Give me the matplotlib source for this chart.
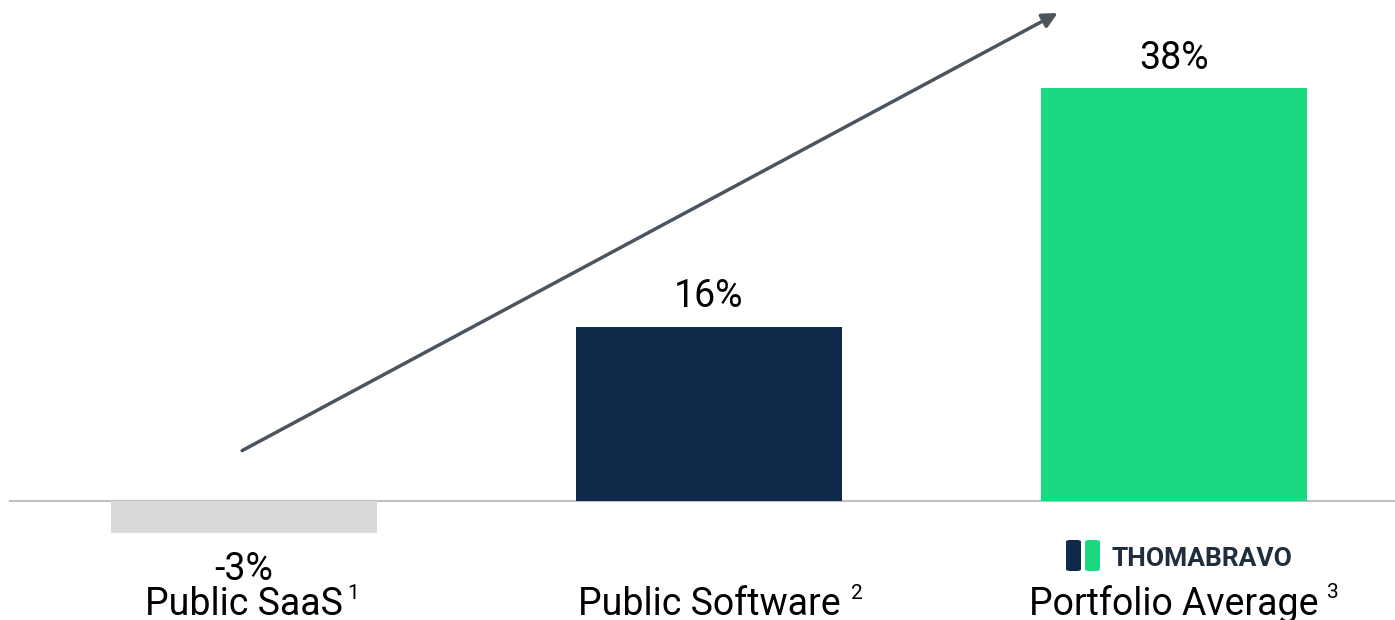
#!/usr/bin/env python3
# -*- coding: utf-8 -*-
"""
Growth bar chart: public SaaS vs software vs portfolio.
"""

import matplotlib
matplotlib.use('Agg')
import matplotlib.pyplot as plt
from matplotlib.patches import FancyBboxPatch

plt.rcParams['font.family'] = ['Roboto', 'DejaVu Sans']

categories = ['Public SaaS', 'Public Software', 'Portfolio Average']
footnotes = ['1', '2', '3']
values = [-3, 16, 38]
value_labels = ['-3%', '16%', '38%']
colors = ['#d9d9d9', '#10294b', '#1ad981']

fig = plt.figure(figsize=(13.95, 6.2), dpi=100)
ax = fig.add_axes([0, 0, 1, 1])
ax.set_xlim(-0.5247, 2.4753)
ax.set_ylim(-11.0, 46.1)
ax.axis('off')

x = list(range(len(categories)))
ax.bar(x, values, width=0.572, color=colors, zorder=2)
ax.axhline(0, xmin=0.007, xmax=1, color='#bfbfbf', lw=1.5, zorder=1)

for i, (v, lab) in enumerate(zip(values, value_labels)):
    if v >= 0:
        ax.annotate(lab, xy=(i, v), xytext=(0, 14), textcoords='offset points',
                    ha='center', va='baseline', fontsize=27, color='#000000')
    else:
        ax.text(i, -7.28, lab, ha='center', va='baseline', fontsize=27,
                color='#000000')

gaps = [3, 8, 6]
for i, (cat, fn) in enumerate(zip(categories, footnotes)):
    t = ax.text(i, -10.5, cat, ha='center', va='baseline', fontsize=27,
                color='#000000')
    ax.annotate(fn, xy=(1, 1), xycoords=t, xytext=(gaps[i], 1),
                textcoords='offset points', ha='left', va='top', fontsize=15,
                color='#000000')

# trend arrow
ax.annotate('', xy=(1.75, 44.9), xytext=(-0.004, 4.6),
            arrowprops=dict(arrowstyle='-|>,head_length=0.9,head_width=0.45',
                            color='#4a5560', lw=2.5, shrinkA=0, shrinkB=0))

# logo under the last bar
for x0, c in [(1066, '#10294b'), (1085, '#1ad981')]:
    fig.patches.append(FancyBboxPatch(
        (x0 / 1395, 1 - 571 / 620), 15 / 1395, 31 / 620,
        boxstyle='round,pad=0,rounding_size=0.003', transform=fig.transFigure,
        facecolor=c, edgecolor='none'))
fig.text(1111 / 1395, 1 - 566 / 620, 'THOMABRAVO', fontsize=19,
         fontweight='bold', color='#1f2d3d', ha='left', va='baseline')

fig.savefig('out.png', dpi=100)
